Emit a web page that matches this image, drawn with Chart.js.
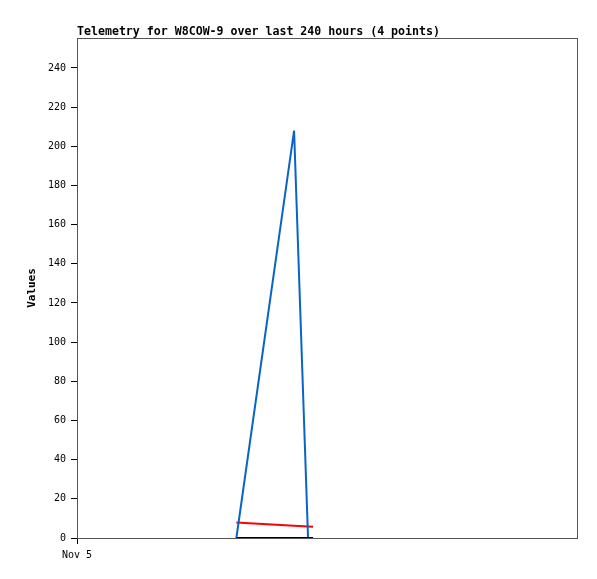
<!DOCTYPE html>
<html>
<head>
<meta charset="utf-8">
<script src="https://cdn.jsdelivr.net/npm/chart.js@4"></script>
<style>
  html, body { margin: 0; padding: 0; background: #fff; }
  #wrap { width: 597px; height: 579px; }
</style>
</head>
<body>
<div id="wrap"><canvas id="telem"></canvas></div>
<script>
// hours since start of the 240 hour window
var hours = [76.5, 104.2, 110.9, 113.3];
var blueVals = [0, 208, 0, 0];
var redVals = [7.9, 6.2, 5.9, 5.7];
var blackVals = [0, 0, 0, 0];
var yTicks = [0, 20, 40, 60, 80, 100, 120, 140, 160, 180, 200, 220, 240];
var xTickLabels = { 0: "Nov 5" };
var chartTitle = "Telemetry for W8COW-9 over last 240 hours (4 points)";

function pts(vals) {
  return vals.map(function (v, i) { return { x: hours[i], y: v }; });
}

var framePlugin = {
  id: "frame",
  beforeDatasetsDraw: function (chart) {
    var a = chart.chartArea, ctx = chart.ctx;
    ctx.save();
    ctx.strokeStyle = "#555";
    ctx.lineWidth = 1;
    ctx.strokeRect(a.left + 0.5, a.top + 0.5, a.right - a.left, a.bottom - a.top);
    ctx.restore();
  },
  afterDraw: function (chart) {
    var ctx = chart.ctx;
    ctx.save();
    ctx.fillStyle = "#000";
    ctx.font = "bold 11.6px 'DejaVu Sans Mono'";
    ctx.textBaseline = "alphabetic";
    ctx.fillText(chartTitle, 77, 35);
    ctx.restore();
  }
};

var line = function (label, color, vals) {
  return {
    label: label,
    data: pts(vals),
    borderColor: color,
    borderWidth: 2,
    pointRadius: 0,
    tension: 0,
    fill: false
  };
};

new Chart("telem", {
  type: "line",
  data: {
    datasets: [
      line("zero", "#000000", blackVals),
      line("blue", "#0a64c8", blueVals),
      line("red", "#ff0000", redVals)
    ]
  },
  plugins: [framePlugin],
  options: {
    responsive: true,
    maintainAspectRatio: false,
    animation: false,
    layout: { padding: { top: 38, right: 20, left: 0, bottom: 0 } },
    plugins: { legend: { display: false }, tooltip: { enabled: false } },
    scales: {
      x: {
        type: "linear",
        min: 0,
        max: 240,
        afterBuildTicks: function (s) {
          s.ticks = Object.keys(xTickLabels).map(function (k) { return { value: +k }; });
        },
        afterFit: function (s) { s.height = 41; },
        border: { display: true, color: "#000", width: 1 },
        grid: { drawOnChartArea: false, tickLength: 6, color: "#000" },
        ticks: {
          color: "#000",
          maxRotation: 0,
          padding: 5,
          font: { family: "DejaVu Sans Mono", size: 10 },
          callback: function (v) { return xTickLabels[v] || ""; }
        }
      },
      y: {
        min: 0,
        max: 255.3,
        afterBuildTicks: function (s) {
          s.ticks = yTicks.map(function (v) { return { value: v }; });
        },
        afterFit: function (s) { s.width = 77; },
        border: { display: true, color: "#000", width: 1 },
        grid: { drawOnChartArea: false, tickLength: 6, color: "#000" },
        title: {
          display: true,
          text: "Values",
          color: "#000",
          font: { family: "DejaVu Sans Mono", size: 11, weight: "bold" },
          padding: { top: 26, bottom: 0 }
        },
        ticks: {
          color: "#000",
          padding: 5,
          font: { family: "DejaVu Sans Mono", size: 10 }
        }
      }
    }
  }
});
</script>
</body>
</html>
